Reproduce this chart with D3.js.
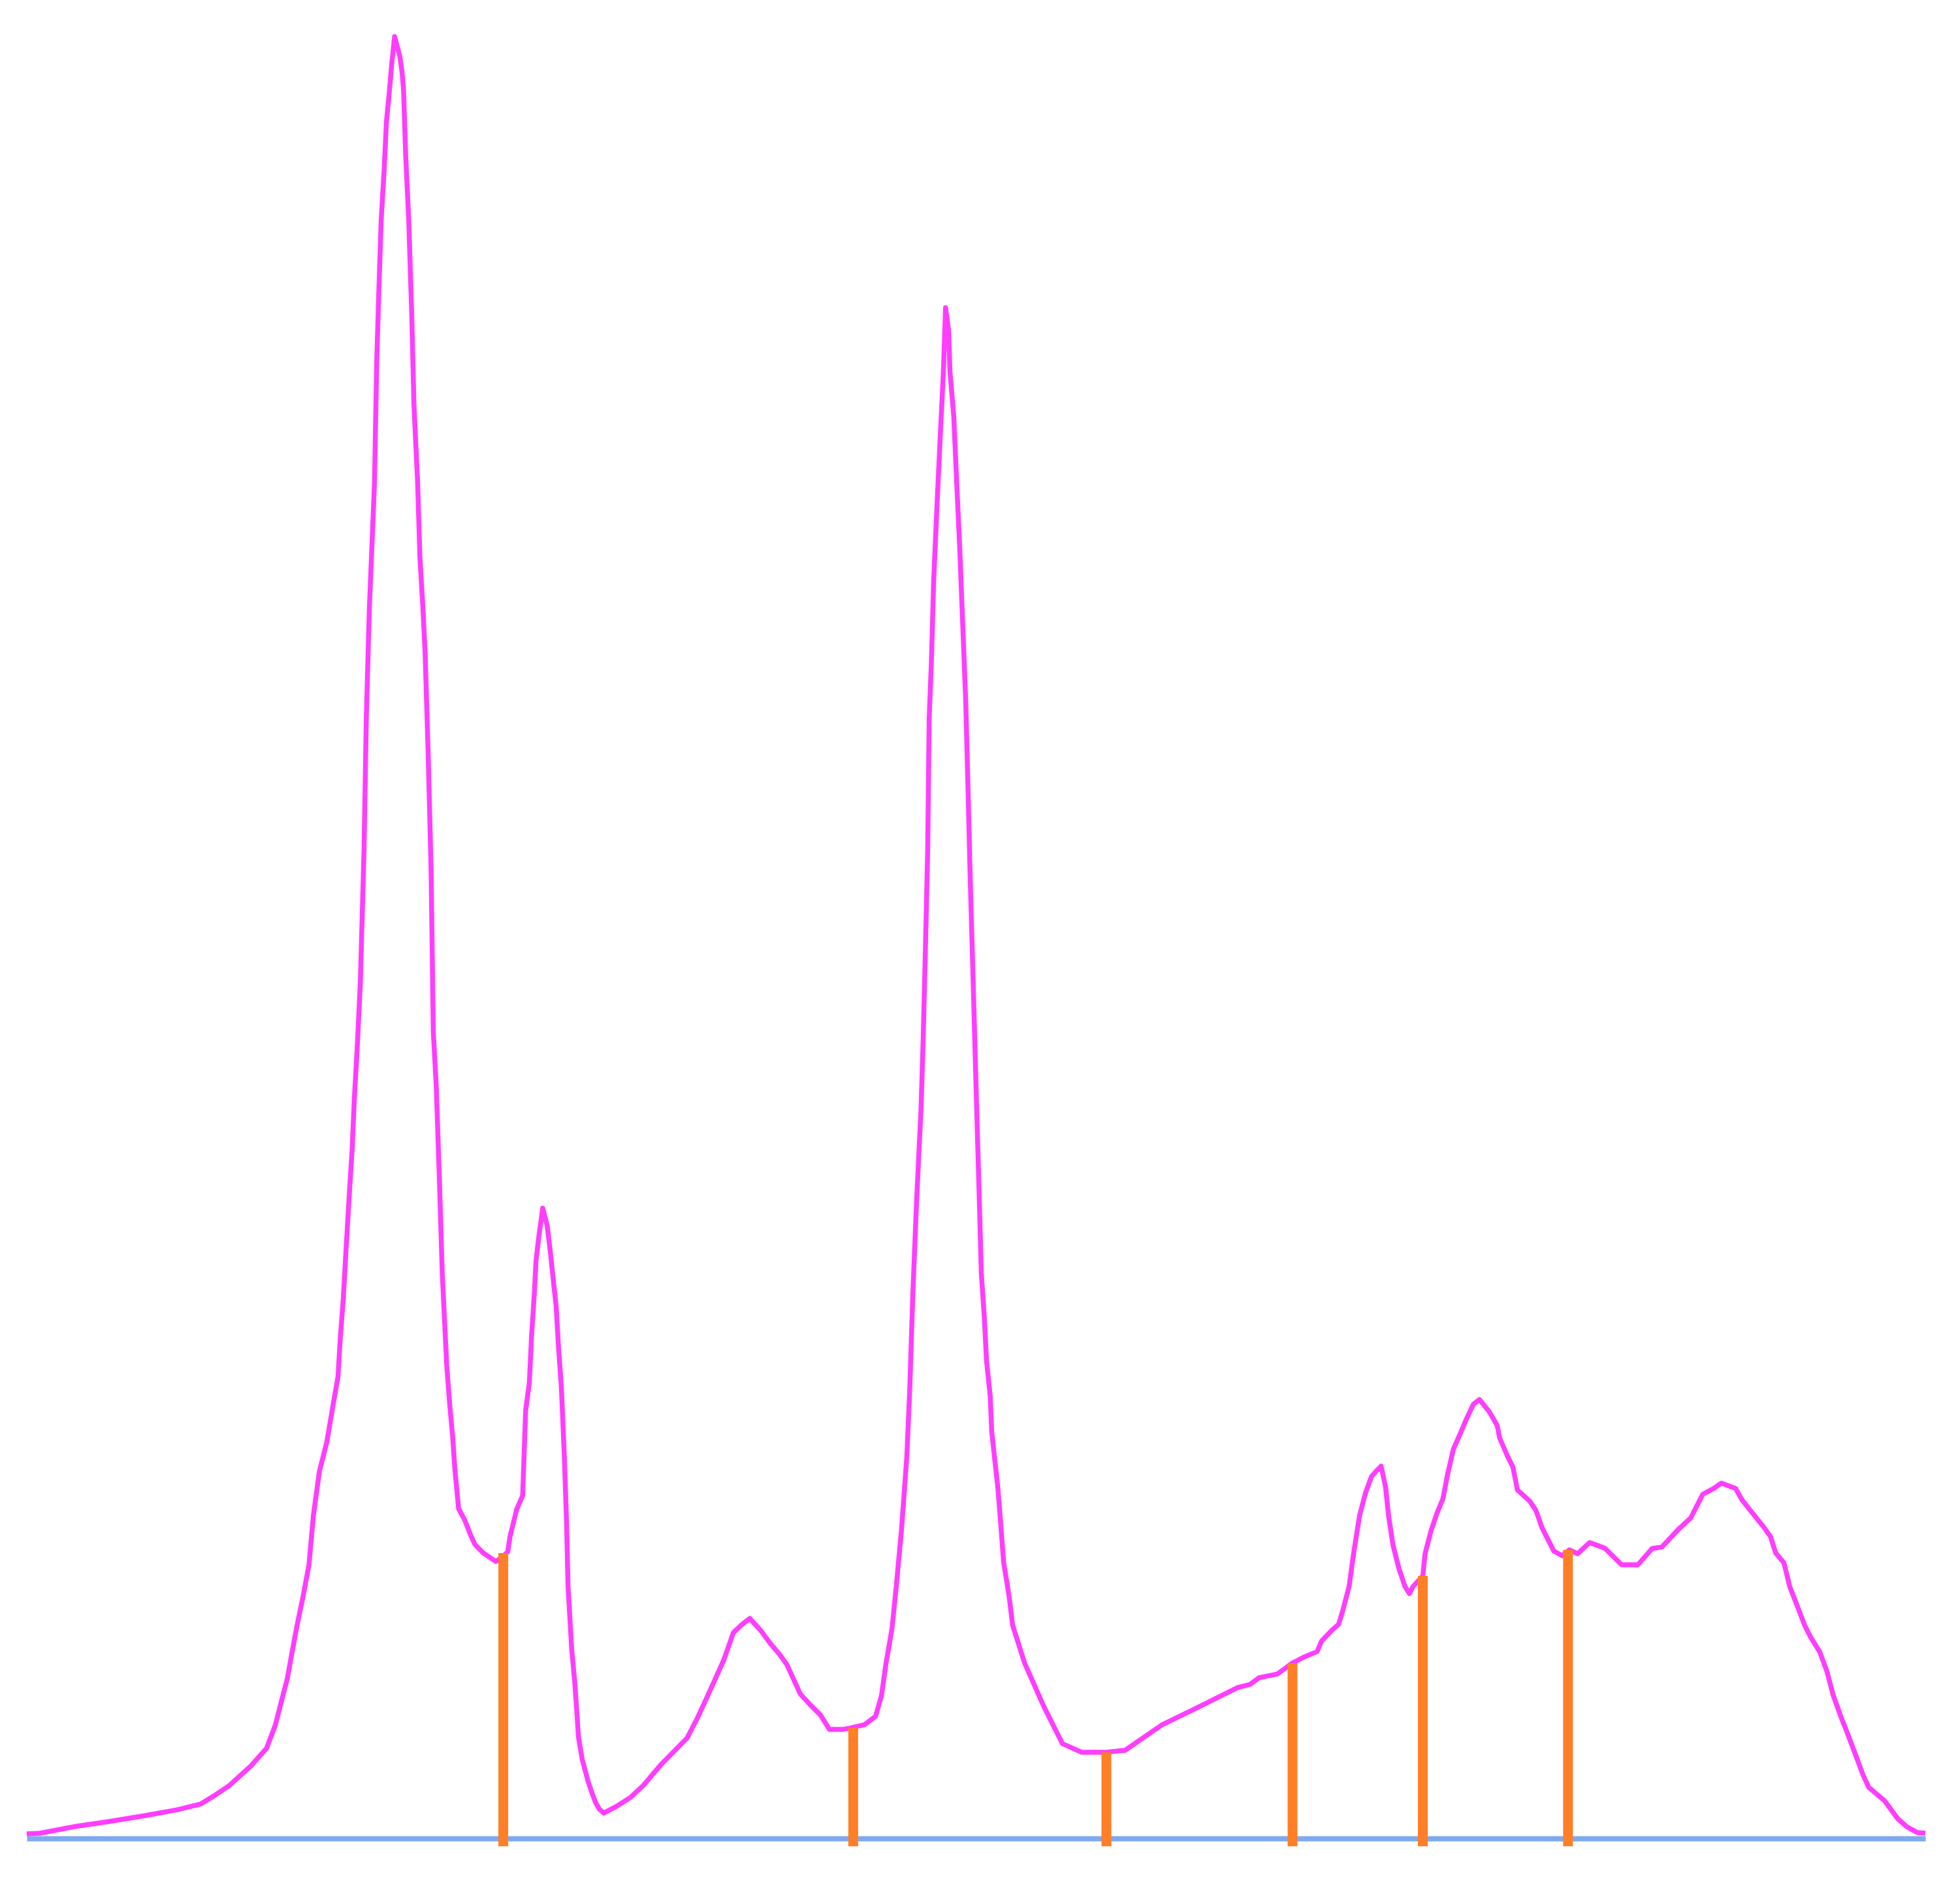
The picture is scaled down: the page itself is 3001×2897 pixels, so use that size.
<!DOCTYPE html>
<html>
<head>
<meta charset="utf-8">
<script src="https://cdn.jsdelivr.net/npm/d3@7"></script>
<style>
  body { margin: 0; background: #fff; }
  svg { display: block; }
</style>
</head>
<body>
<svg id="histogram"></svg>
<script>
/* grey levels of the traced histogram (x) */
const levels = [
  0, 1.8, 6.3, 11.1, 15.9, 20.2, 23.4, 25.4, 27.1, 30.1, 32.2, 33.4, 34.2, 35.0, 35.5, 36.3, 37.1, 37.9, 38.5, 39.3,
  40.3, 41.1, 41.8, 42.1, 42.5, 42.9, 43.3, 43.7, 44.0, 44.4, 44.8, 45.3, 45.6, 46.0, 46.7, 47.0, 47.3, 47.6, 48.0, 48.3,
  48.7, 49.0, 49.4, 50.1, 50.4, 50.6, 50.9, 51.3, 51.7, 52.0, 52.5, 52.8, 53.2, 53.5, 53.9, 54.3, 54.6, 55.0, 55.4, 55.8,
  56.1, 56.4, 56.8, 57.2, 57.5, 58.0, 58.8, 59.6, 60.2, 61.3, 63.0, 63.8, 64.6, 64.9, 65.4, 65.8, 66.6, 67.0, 67.5, 67.8,
  68.2, 68.4, 68.8, 69.3, 69.9, 70.3, 70.7, 71.1, 71.4, 71.8, 72.2, 72.5, 72.7, 73.2, 73.6, 73.9, 74.1, 74.6, 75.0, 75.4,
  75.9, 76.4, 76.9, 77.5, 79.2, 81.1, 82.8, 85.1, 86.8, 88.7, 90.1, 91.4, 92.5, 93.6, 94.9, 96.0, 97.1, 98.6, 99.9, 101.1,
  102.1, 103.9, 105.2, 106.6, 107.8, 109.6, 110.6, 112.5, 114.0, 114.8, 115.4, 116.2, 116.8, 117.5, 118.2, 118.6, 119.0, 119.5, 119.8, 120.1,
  120.4, 120.7, 121.0, 121.2, 121.5, 121.8, 122.3, 122.7, 123.1, 123.4, 123.8, 124.0, 124.5, 124.9, 125.3, 125.7, 126.1, 126.4, 126.7, 127.1,
  127.5, 127.9, 128.2, 128.6, 128.9, 129.4, 129.6, 130.0, 130.4, 130.7, 131.2, 131.7, 132.0, 132.4, 134.0, 136.6, 139.1, 141.7, 144.8, 147.5,
  152.5, 157.5, 162.6, 164.3, 165.5, 168.0, 169.9, 171.4, 173.3, 173.9, 175.3, 176.2, 176.8, 177.6, 178.2, 179.0, 179.8, 180.6, 181.3, 181.9,
  182.5, 182.9, 183.5, 184.3, 185.1, 185.7, 186.2, 187.5, 187.8, 188.6, 189.4, 190.2, 190.8, 191.6, 192.5, 193.3, 194.3, 195.1, 196.4, 197.5,
  197.8, 198.8, 199.6, 200.2, 201.9, 202.7, 203.5, 204.3, 205.1, 206.2, 207.2, 208.3, 209.9, 210.9, 212.0, 214.2, 216.4, 218.3, 219.6, 221.8,
  223.5, 225.1, 226.6, 227.6, 229.5, 230.4, 232.0, 233.2, 234.2, 234.9, 236.0, 236.8, 237.9, 238.8, 239.6, 240.8, 241.8, 242.6, 243.7, 244.4,
  245.5, 246.6, 247.4, 249.5, 251.3, 252.5, 253.9, 255.0
];

/* relative pixel counts (peak = 1000) */
const counts = [
  2.5, 2.9, 6.5, 9.4, 12.7, 15.9, 19.2, 24.3, 29.0, 40.2, 50.0, 63.1, 76.1, 88.8, 100.4, 118.2, 134.1, 151.9, 179.4, 203.7,
  220.0, 239.6, 256.3, 277.3, 299.0, 328.0, 356.3, 382.4, 411.0, 440.4, 474.8, 549.1, 621.6, 681.4, 752.1, 819.1, 860.8, 898.2, 926.1, 952.5,
  969.6, 984.1, 1000, 989.1, 980.4, 970.6, 933.3, 898.2, 846.3, 795.6, 752.1, 711.1, 683.2, 657.8, 603.5, 538.2, 447.6, 417.2, 367.9, 314.2,
  288.1, 262.8, 241.0, 222.9, 204.8, 183.0, 176.9, 168.5, 163.1, 158.4, 153.7, 155.9, 159.1, 167.5, 175.8, 182.7, 190.3, 237.4, 253.0, 279.1,
  304.5, 320.8, 334.9, 349.8, 340.0, 326.2, 310.6, 295.4, 273.6, 250.5, 212.0, 175.1, 139.5, 104.4, 86.6, 68.9, 56.2, 43.9, 37.7, 31.5,
  25.4, 19.9, 16.3, 14.1, 17.8, 22.8, 29.4, 40.6, 47.8, 55.8, 67.1, 78.7, 88.8, 98.9, 114.2, 118.5, 122.1, 115.3, 108.0, 102.2,
  96.4, 80.1, 74.3, 68.5, 60.5, 60.5, 61.3, 63.1, 67.8, 79.4, 97.1, 116.3, 140.6, 172.2, 212.0, 250.5, 301.6, 352.7, 378.8, 404.1,
  444.4, 494.7, 548.7, 621.6, 653.1, 697.7, 744.1, 779.3, 813.0, 849.6, 837.3, 813.7, 789.4, 752.1, 716.6, 674.2, 632.1, 585.4, 534.6, 476.6,
  416.8, 359.2, 313.9, 289.6, 265.3, 245.4, 225.8, 210.6, 195.7, 180.5, 153.3, 140.6, 132.3, 118.5, 97.5, 73.2, 52.6, 47.8, 47.8, 48.9,
  63.1, 73.2, 83.7, 85.5, 89.2, 91.3, 97.1, 100.4, 103.7, 109.5, 115.6, 118.9, 127.2, 139.9, 158.0, 179.1, 191.7, 200.8, 204.1, 206.6,
  195.0, 179.1, 162.7, 149.7, 139.9, 135.9, 139.9, 145.7, 158.0, 170.7, 180.5, 188.5, 201.5, 216.0, 224.4, 232.3, 241.0, 243.6, 237.0, 229.1,
  222.5, 212.8, 206.2, 193.5, 187.0, 182.0, 172.5, 166.0, 159.5, 156.9, 160.2, 158.0, 164.2, 162.7, 160.9, 151.9, 151.9, 160.9, 161.7, 171.4,
  178.0, 191.0, 194.3, 197.2, 194.3, 187.7, 179.4, 173.3, 167.5, 158.4, 153.0, 139.5, 127.9, 118.2, 111.6, 103.7, 92.4, 79.7, 67.1, 59.8,
  47.8, 35.5, 28.3, 21.0, 10.9, 6.5, 3.3, 2.9
];

/* valley thresholds and the histogram height at each one */
const thresholdLevels = [64, 111, 145, 170, 187.5, 207];
const thresholdCounts = [158.4, 61.6, 47.8, 97.1, 145.7, 160.2];

const width = 3001;
const height = 2897;
const margin = {top: 56, right: 53, bottom: 82, left: 41};

const svg = d3.select('#histogram')
    .attr('width', width)
    .attr('height', height);

svg.append('rect')
    .attr('width', width)
    .attr('height', height)
    .attr('fill', '#ffffff');

const xScale = d3.scaleLinear()
    .domain([0, 255])
    .range([margin.left, width - margin.right]);

const yScale = d3.scaleLinear()
    .domain([0, 1000])
    .range([height - margin.bottom, margin.top]);

/* baseline drawn as a bare axis: no ticks, no labels */
svg.append('g')
    .attr('class', 'baseline')
    .attr('transform', `translate(0, ${yScale(0)})`)
    .call(d3.axisBottom(xScale).tickValues([]).tickSizeOuter(0))
    .select('.domain')
    .attr('stroke', '#7fa9ee')
    .attr('stroke-width', 8);

const points = levels.map((l, i) => ({level: l, count: counts[i]}));

const line = d3.line()
    .x(d => xScale(d.level))
    .y(d => yScale(d.count));

svg.append('path')
    .datum(points)
    .attr('fill', 'none')
    .attr('stroke', '#ff3dff')
    .attr('stroke-width', 7.5)
    .attr('stroke-linejoin', 'round')
    .attr('d', line);

/* orange threshold markers, slightly poking below the baseline */
svg.selectAll('.threshold')
    .data(thresholdLevels.map((l, i) => ({level: l, count: thresholdCounts[i]})))
    .enter()
    .append('line')
    .attr('class', 'threshold')
    .attr('x1', d => xScale(d.level))
    .attr('x2', d => xScale(d.level))
    .attr('y1', yScale(0) + 12)
    .attr('y2', d => yScale(d.count))
    .attr('stroke', '#ff7f27')
    .attr('stroke-width', 15);
</script>
</body>
</html>
